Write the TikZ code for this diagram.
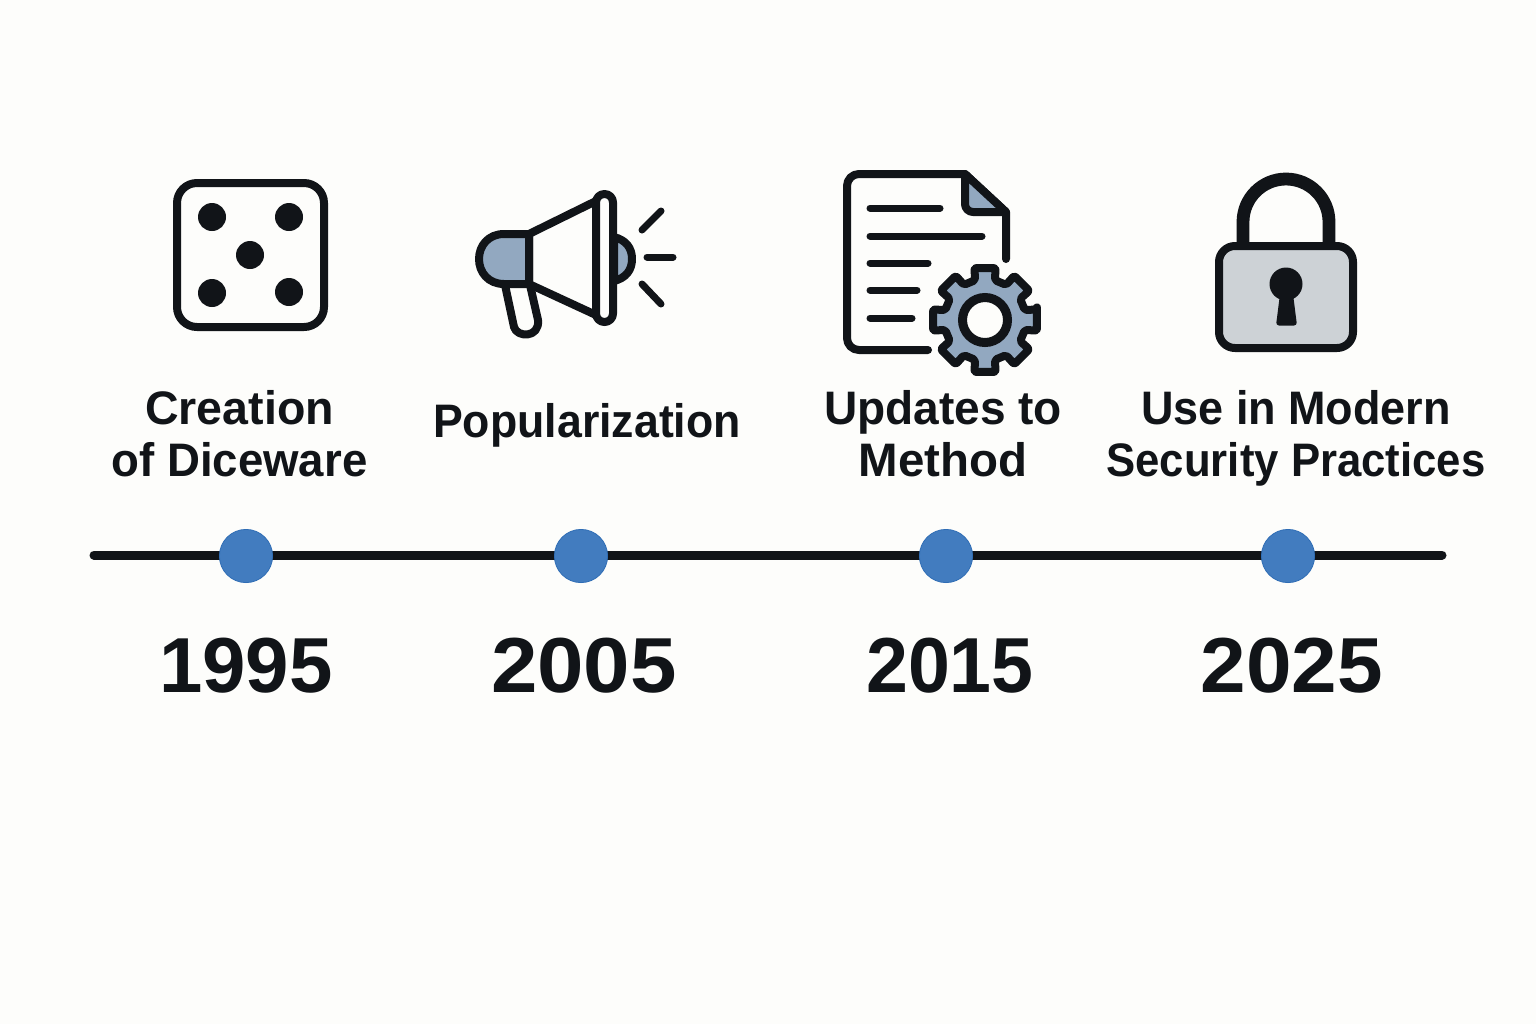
\documentclass[tikz,border=0pt]{standalone}
\usepackage{fontspec}
\setmainfont{Liberation Sans}
\newcommand{\ls}[2]{{\addfontfeatures{FakeStretch=#1}#2}}
\definecolor{bg}{HTML}{FDFDFB}
\definecolor{ink}{HTML}{111418}
\definecolor{dot}{HTML}{427CBF}
\definecolor{dotedge}{HTML}{2F6DB5}
\definecolor{steel}{HTML}{92A8C0}
\definecolor{lockgrey}{HTML}{CDD2D6}
\tikzset{
  icon/.style={draw=ink,line width=4pt,line join=round,line cap=round},
  thin/.style={draw=ink,line width=3.5pt,line cap=round},
  eventlabel/.style={text=ink,font=\fontsize{23.5}{26}\selectfont\bfseries,align=center,inner sep=0pt},
  yearlabel/.style={text=ink,font=\fontsize{39}{42}\selectfont\bfseries,inner sep=0pt,anchor=base},
  marker/.style={circle,fill=dot,draw=dotedge,line width=0.4pt,minimum size=26.6pt,inner sep=0pt},
}
\begin{document}
\begin{tikzpicture}[x=0.5pt,y=-0.5pt]
\fill[bg] (0,0) rectangle (1536,1024);
\useasboundingbox (0,0) rectangle (1536,1024);
% timeline
\coordinate (tl) at (94,555);
\coordinate (tr) at (1442,555);
\draw[ink,line width=4.5pt,line cap=round] (tl) -- (tr);
\node[marker] (m1) at (246,556) {};
\node[marker] (m2) at (581,556) {};
\node[marker] (m3) at (946,556) {};
\node[marker] (m4) at (1288,556) {};
% years
\node[yearlabel] (y1) at (246,692) {1995};
\node[yearlabel] (y2) at (584,692) {\ls{1.07}{2005}};
\node[yearlabel] (y3) at (950,692) {\ls{0.965}{2015}};
\node[yearlabel] (y4) at (1292,692) {\ls{1.05}{2025}};
% labels
\node[eventlabel] (l1) at (239.5,434) {\ls{0.99}{Creation}\\\ls{0.97}{of Diceware}};
\node[eventlabel] (l2) at (587,425) {\ls{0.95}{Popularization}};
\node[eventlabel] (l3) at (943,434) {\ls{0.98}{Updates to}\\\ls{1.01}{Method}};
\node[eventlabel] (l4) at (1296,438) {\ls{0.957}{Use in Modern}\\\ls{0.93}{Security Practices}};
% die
\draw[icon,fill=bg,rounded corners=10pt] (177,183) rectangle (324,327);
\foreach \p in {(212,217),(289,217),(250,255),(212,293),(289,292)}
  \fill[ink] \p circle[radius=14];
% megaphone
\draw[icon,fill=steel] (614,237) .. controls (626,240) and (632,248) .. (632,259) .. controls (632,270) and (626,278) .. (614,281) -- cycle;
\draw[icon,fill=bg] (505,285) -- (514,327) .. controls (517,338) and (540,338) .. (538,320) -- (530,285);
\draw[icon,fill=bg] (529,234) -- (596,201) -- (596,315) -- (529,284) -- cycle;
\draw[icon,fill=steel] (529,234) -- (504,234) .. controls (488,234) and (479,246) .. (479,259) .. controls (479,272) and (488,284) .. (504,284) -- (529,284) -- cycle;
\draw[icon,fill=bg,rounded corners=4.2pt] (596,194) rectangle (613,322);
\draw[thin] (642,230) -- (661,211);
\draw[thin] (647,257) -- (673,257);
\draw[thin] (642,284) -- (661,304);
% document
\draw[icon,fill=bg] (1006,259) -- (1006,212) -- (965,174) [rounded corners=6pt] -- (847,174) -- (847,350) -- (928,350);
\draw[icon,fill=steel] (965,174) [rounded corners=4pt] -- (965,212) [sharp corners] -- (1006,212) -- cycle;
\draw[thin] (870,208) -- (940,208);
\draw[thin] (870,236) -- (982,236);
\draw[thin] (870,263) -- (928,263);
\draw[thin] (870,290) -- (917,290);
\draw[thin] (870,318) -- (912,318);
% gear
\coordinate (g) at (985,320);
\draw[icon,fill=steel,rounded corners=1pt,shift={(g)}] (-11.5:53)
  \foreach \a in {0,45,...,315} {
    -- (\a-11.5:53) -- (\a+11.5:53) -- (\a+14:41) -- (\a+31:41) }
  -- cycle;
\draw[draw=ink,line width=4.5pt,fill=bg] (g) circle[radius=22.5];
% lock
\draw[draw=ink,line width=6.4pt] (1243,250) -- (1243,222) arc[start angle=180,end angle=360,radius=43] -- (1329,250);
\draw[icon,fill=lockgrey,rounded corners=8pt] (1219,246) rectangle (1353,348);
\fill[ink] (1286,284) circle[radius=16.5];
\fill[ink,rounded corners=1.5pt] (1280,294) -- (1276,325.5) -- (1297,325.5) -- (1293,294) -- cycle;
\end{tikzpicture}
\end{document}
